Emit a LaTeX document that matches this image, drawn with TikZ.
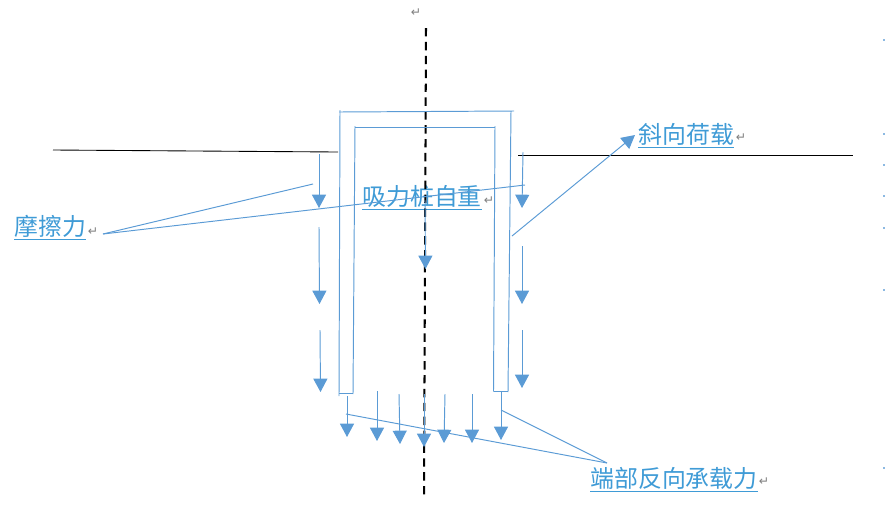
\documentclass[tikz,border=0pt]{standalone}
\usepackage{fontspec}
\setmainfont{DejaVu Sans}
\newfontfamily\cjk{Noto Sans CJK SC}[Scale=1]
\usepackage{xcolor}
\definecolor{pileBlue}{HTML}{5B9BD5}
\definecolor{labelBlue}{HTML}{3F9BD6}
\usetikzlibrary{arrows.meta}
\tikzset{
  pileline/.style={pileBlue, line width=0.55pt},
  force/.style={pileBlue, line width=0.55pt, -{Triangle[length=7.6pt,width=8pt]}},
  leader/.style={pileBlue, line width=0.55pt},
  ground/.style={black, line width=0.5pt},
  label/.style={labelBlue, inner sep=0pt, anchor=base west, font=\cjk\fontsize{13.6}{14}\selectfont},
  retmark/.style={black!50, inner sep=0pt, font=\fontsize{7}{8}\selectfont},
  tick/.style={pileBlue!70, line width=0.6pt}
}
\begin{document}
\begin{tikzpicture}[x=0.02cm,y=-0.02cm]
  \useasboundingbox (0,0) rectangle (886,508);
  % ------- labels -------
  \node[label] (friction) at (14,235) {\underline{摩擦力}};
  \node[label] (incline) at (638,143) {\underline{斜向荷载}};
  \node[label] (weight) at (362,205) {\underline{吸力桩自重}};
  \node[label] (endload) at (590,487) {\underline{端部反向承载力}};
  \foreach \n/\x/\y in {a/416/13,b/93/232,c/741/138,d/489/201,e/764/482} {
    \node[retmark] (ret\n) at (\x,\y) {↵};
  }
  % ------- ground and axis -------
  \coordinate (gl1) at (53,150); \coordinate (gl2) at (338,152);
  \coordinate (gr1) at (518,155); \coordinate (gr2) at (853,155);
  \coordinate (axis1) at (426,28); \coordinate (axis2) at (424,496);
  \draw[ground] (gl1) -- (gl2);
  \draw[ground] (gr1) -- (gr2);
  \draw[black, line width=1.15pt, dash pattern=on 4.8pt off 3.1pt] (axis1) -- (axis2);
  % ------- pile -------
  \draw[pileline] (339,112) -- (514,111);
  \draw[pileline] (340,110) -- (339,396);
  \draw[pileline] (339,393.5) -- (353,393.5);
  \draw[pileline] (353,394) -- (355,126);
  \draw[pileline] (355,127) -- (495,127);
  \draw[pileline] (495,126) -- (493.5,391.5);
  \draw[pileline] (493.5,391) -- (508,391);
  \draw[pileline] (508,392) -- (511,111);
  % ------- side and body forces -------
  \foreach \n/\xa/\ya/\xb/\yb in {a/319/154/319/208,b/319/227/319.5/304,c/320/330/320.5/392,d/523/152/522/208,e/522/246/522/304,f/522/330/522/388,g/425/200/425.5/269} {
    \coordinate (fs\n) at (\xa,\ya); \coordinate (fe\n) at (\xb,\yb);
    \draw[force] (fs\n) -- (fe\n);
  }
  % ------- end bearing forces -------
  \foreach \n/\xa/\xb/\ya/\yb in {a/347/347/396/437,b/377/377/391/441,c/399/400/394/444,d/424/424/394/447,e/445/444/394/443,f/472/472/394/443,g/501/501/392/440} {
    \coordinate (bs\n) at (\xa,\ya); \coordinate (be\n) at (\xb,\yb);
    \draw[force] (bs\n) -- (be\n);
  }
  % ------- leaders -------
  \coordinate (fr0) at (103,234); \coordinate (fr1) at (313,184); \coordinate (fr2) at (525,185);
  \coordinate (en0) at (607,463); \coordinate (en1) at (346,414); \coordinate (en2) at (501,410);
  \coordinate (in0) at (512,236); \coordinate (in1) at (635,135);
  \draw[leader] (fr0) -- (fr1);
  \draw[leader] (fr0) -- (fr2);
  \draw[leader] (en0) -- (en1);
  \draw[leader] (en0) -- (en2);
  \draw[force] (in0) -- (in1);
  % ------- page ticks -------
  \foreach \n/\y in {a/40,b/134,c/165,d/196,e/228,f/290,g/468} {
    \coordinate (ta\n) at (883,\y); \coordinate (tb\n) at (885,\y);
    \draw[tick] (ta\n) -- (tb\n);
  }
\end{tikzpicture}
\end{document}
